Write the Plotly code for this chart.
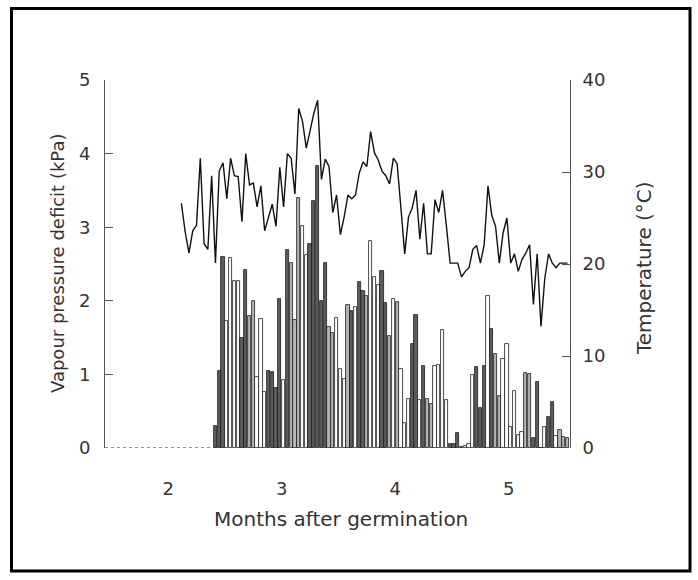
import plotly.graph_objects as go

# ---------------- data ----------------
# Daily values; day number counted from germination (30 days per month on the axis)
BAR_DAYS = list(range(73, 167))
VPD_KPA = [
    0.30, 1.05, 2.60, 1.73, 2.58, 2.27, 2.27, 1.50, 2.42, 1.80,
    2.00, 0.97, 1.75, 0.76, 1.04, 1.03, 0.82, 2.02, 0.93, 2.69,
    2.51, 1.74, 3.40, 3.02, 2.62, 2.77, 3.35, 3.83, 2.00, 2.52,
    1.64, 1.56, 1.76, 1.07, 0.94, 1.94, 1.86, 1.92, 2.25, 2.13,
    2.06, 2.81, 2.33, 2.22, 2.40, 1.97, 1.52, 2.03, 1.98, 1.07,
    0.34, 0.67, 1.41, 1.81, 0.65, 1.11, 0.66, 0.60, 1.11, 1.13,
    1.61, 0.65, 0.05, 0.05, 0.21, 0.02, 0.03, 0.05, 0.99, 1.10,
    0.55, 1.11, 2.06, 1.62, 1.28, 0.70, 1.21, 1.41, 0.29, 0.77,
    0.17, 0.22, 1.02, 1.00, 0.14, 0.90, 0.00, 0.29, 0.42, 0.63,
    0.16, 0.25, 0.15, 0.13,
]

LINE_DAYS = list(range(64, 167))
TEMP_C = [
    26.6, 23.5, 21.2, 23.6, 24.2, 31.5, 22.2, 21.6, 29.6, 20.1,
    30.1, 31.0, 27.1, 31.5, 29.6, 29.5, 24.6, 32.0, 28.6, 28.8,
    26.2, 28.5, 23.6, 25.1, 26.5, 24.1, 30.5,
    26.2, 32.0, 31.5, 27.6, 36.9, 35.5, 32.6, 34.4, 36.4, 37.8,
    29.2, 31.4, 30.6, 25.6, 27.5, 23.2, 25.1, 27.5, 27.1, 27.5,
    29.9, 31.1, 30.6, 34.4, 32.1, 31.3,
    30.1, 29.6, 28.7, 31.5, 30.9, 26.1, 21.1, 25.1, 26.1, 28.0,
    22.7, 26.6, 21.1, 21.1, 27.0, 25.6, 28.0, 24.2, 20.1, 20.1,
    20.1, 18.6, 19.2, 19.6, 21.6, 22.0,
    20.1, 22.1, 28.5, 25.3, 24.1, 20.1, 23.4, 25.0, 20.1, 21.1,
    19.2, 20.5, 21.2, 22.1, 15.6, 21.1, 13.2, 18.4, 21.1, 20.1,
    19.6, 20.1, 20.1, 20.1,
]

X_TICKS = [2, 3, 4, 5]
Y_TICKS = [0, 1, 2, 3, 4, 5]
Y2_TICKS = [0, 10, 20, 30, 40]

assert len(BAR_DAYS) == len(VPD_KPA)
assert len(LINE_DAYS) == len(TEMP_C)

# ---------------- style ----------------
SHADE_CODES = list(
    "dddwwwwddllwwwddddwdlllwwdddddllwwwldwddlwwwddlwlwwwddwdllwwwwddddwwwddd"
    "wdllwwwwwwllddwwddwll" + "l"
)
SHADE_MAP = {"d": "#5c5c5c", "l": "#b4b4b4", "w": "#ffffff"}
SHADE_CODES = (SHADE_CODES + ["w"] * len(VPD_KPA))[: len(VPD_KPA)]
BAR_COLORS = [SHADE_MAP[c] for c in SHADE_CODES]

FONT = "DejaVu Sans"
TXT = "#333333"
AX = "#555555"
X_RANGE = [1.444, 5.539]
DAYS_PER_MONTH = 30.0


def to_month(d):
    return (d - 0.5) / DAYS_PER_MONTH


bar_x = [to_month(d) for d in BAR_DAYS]
line_x = [to_month(d) for d in LINE_DAYS]

fig = go.Figure()

# dotted zero baseline before the first measured bar
fig.add_trace(go.Scatter(
    x=[X_RANGE[0], bar_x[0] - 0.5 / DAYS_PER_MONTH], y=[0, 0],
    mode="lines", line=dict(color="#222222", width=1, dash="dot"),
    hoverinfo="skip", showlegend=False, yaxis="y",
))

fig.add_trace(go.Bar(
    x=bar_x, y=VPD_KPA, width=0.86 / DAYS_PER_MONTH,
    marker=dict(color=BAR_COLORS, line=dict(color="#1a1a1a", width=0.8)),
    showlegend=False, yaxis="y", name="VPD",
))

fig.add_trace(go.Scatter(
    x=line_x, y=TEMP_C, mode="lines",
    line=dict(color="#111111", width=1.4),
    showlegend=False, yaxis="y2", name="Temperature",
))

fig.update_layout(
    width=698, height=580,
    margin=dict(l=105, r=128, t=80, b=132),
    paper_bgcolor="white", plot_bgcolor="white",
    font=dict(family=FONT, size=18, color=TXT),
    bargap=0,
    xaxis=dict(
        range=X_RANGE, tickvals=X_TICKS, ticktext=[str(v) for v in X_TICKS],
        showline=False, showgrid=False, zeroline=False,
        ticks="outside", ticklen=24, tickcolor="rgba(0,0,0,0)",
        tickfont=dict(family=FONT, size=18, color=TXT),
    ),
    yaxis=dict(
        range=[0, 5], tickvals=Y_TICKS, ticktext=[str(v) for v in Y_TICKS],
        showline=True, linecolor=AX, linewidth=1,
        ticks="inside", ticklen=8, tickcolor=AX, tickwidth=1,
        showgrid=False, zeroline=False, ticklabelstandoff=10,
        tickfont=dict(family=FONT, size=18, color=TXT),
    ),
    yaxis2=dict(
        range=[0, 40], tickvals=Y2_TICKS, ticktext=[str(v) for v in Y2_TICKS],
        overlaying="y", side="right", anchor="x",
        showline=True, linecolor=AX, linewidth=1,
        ticks="inside", ticklen=8, tickcolor=AX, tickwidth=1,
        showgrid=False, zeroline=False, ticklabelstandoff=8,
        tickfont=dict(family=FONT, size=18, color=TXT),
    ),
    annotations=[
        dict(text="Vapour pressure deficit (kPa)", xref="paper", yref="paper",
             x=0, y=0.5, xshift=-48, textangle=-90, showarrow=False,
             xanchor="center", yanchor="middle",
             font=dict(family=FONT, size=18, color=TXT)),
        dict(text="Temperature (°C)", xref="paper", yref="paper",
             x=1, y=0.5, yshift=-4, xshift=74, textangle=-90, showarrow=False,
             xanchor="center", yanchor="middle",
             font=dict(family=FONT, size=20, color=TXT)),
        dict(text="Months after germination", xref="paper", yref="paper",
             x=0.5, y=0, xshift=3, yshift=-71, showarrow=False,
             xanchor="center", yanchor="middle",
             font=dict(family=FONT, size=20, color=TXT)),
    ],
    shapes=[
        dict(type="rect", xref="paper", yref="paper",
             x0=(11.5 - 105) / 465, x1=(690 - 105) / 465,
             y0=(448 - 571) / 368, y1=(448 - 8.5) / 368,
             line=dict(color="black", width=3), fillcolor="rgba(0,0,0,0)"),
    ],
)

fig.write_html("out.html")
